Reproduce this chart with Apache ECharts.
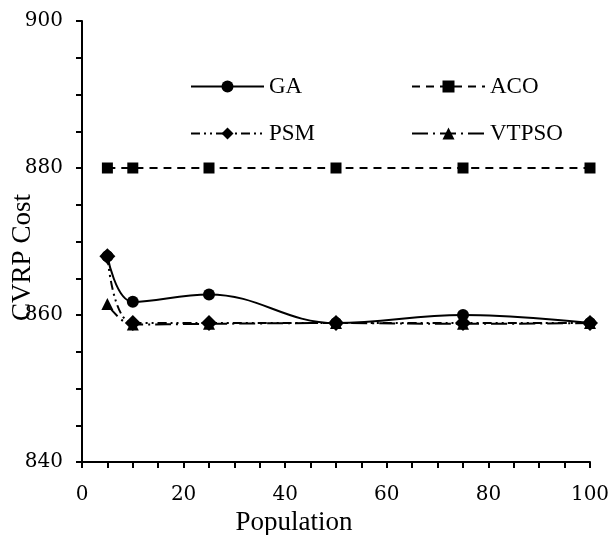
<!DOCTYPE html>
<html><head><meta charset="utf-8">
<script src="https://cdn.jsdelivr.net/npm/echarts@6/dist/echarts.min.js"></script>
<style>html,body{margin:0;padding:0;background:#fff}#c{width:609px;height:535px}</style>
</head><body><div id="c"></div>
<script>
const population = [5, 10, 25, 50, 75, 100];
const ga    = [868, 861.8, 862.8, 858.9, 860, 858.9];
const aco   = [880, 880, 880, 880, 880, 880];
const psm   = [868, 858.9, 858.9, 858.9, 858.9, 858.9];
const vtpso = [861.5, 858.7, 858.8, 858.9, 858.8, 858.9];
const seriesNames = ['GA', 'ACO', 'PSM', 'VTPSO'];
const xTicks = [0, 20, 40, 60, 80, 100];
const yTicks = [840, 860, 880, 900];

const FONT = '"Liberation Serif","Times New Roman",serif';
const TICKFONT = '"DejaVu Serif",serif';
const pairs = arr => population.map((x, i) => [x, arr[i]]);
const base = {type: 'line', smooth: 0.4, color: '#000', itemStyle: {color: '#000'}};
const chart = echarts.init(document.getElementById('c'), null, {renderer: 'canvas'});
const legendCommon = {itemWidth: 73, itemHeight: 15, itemGap: 6,
  textStyle: {fontFamily: FONT, fontSize: 23, color: '#000'}};
chart.setOption({
  animation: false,
  backgroundColor: '#fff',
  grid: {left: 82, right: 19, top: 21, bottom: 73, containLabel: false, outerBoundsMode: 'none'},
  legend: [
    Object.assign({data: [seriesNames[0]], left: 185, top: 70}, legendCommon),
    Object.assign({data: [seriesNames[1]], left: 406, top: 70}, legendCommon),
    Object.assign({data: [seriesNames[2]], left: 185, top: 117}, legendCommon),
    Object.assign({data: [seriesNames[3]], left: 406, top: 117}, legendCommon)
  ],
  xAxis: {
    type: 'value', min: xTicks[0], max: xTicks[xTicks.length - 1], interval: 20,
    name: 'Population', nameLocation: 'middle', nameGap: 42,
    nameTextStyle: {fontFamily: FONT, fontSize: 27, color: '#000', padding: [0, 84, 0, 0]},
    axisLine: {onZero: false, lineStyle: {color: '#000', width: 2}},
    axisTick: {inside: false, length: 6, lineStyle: {color: '#000', width: 2}},
    minorTick: {show: true, splitNumber: 4, length: 6, lineStyle: {color: '#000', width: 2}},
    axisLabel: {fontFamily: TICKFONT, fontSize: 20, color: '#000', margin: 23},
    splitLine: {show: false}
  },
  yAxis: {
    type: 'value', min: yTicks[0], max: yTicks[yTicks.length - 1], interval: 20,
    name: 'CVRP Cost', nameLocation: 'middle', nameGap: 46, nameMoveOverlap: false,
    nameTextStyle: {fontFamily: FONT, fontSize: 27, color: '#000', padding: [0, 32, 0, 0]},
    axisLine: {show: true, lineStyle: {color: '#000', width: 2}},
    axisTick: {inside: false, length: 6, lineStyle: {color: '#000', width: 2}},
    minorTick: {show: true, splitNumber: 4, length: 6, lineStyle: {color: '#000', width: 2}},
    axisLabel: {fontFamily: TICKFONT, fontSize: 20, color: '#000', margin: 19},
    splitLine: {show: false}
  },
  series: [
    Object.assign({}, base, {name: 'GA', data: pairs(ga), symbol: 'circle', symbolSize: 12,
      lineStyle: {color: '#000', width: 2, type: 'solid'}}),
    Object.assign({}, base, {name: 'ACO', data: pairs(aco), symbol: 'rect', symbolSize: 11,
      lineStyle: {color: '#000', width: 2, type: [8, 6]}}),
    Object.assign({}, base, {name: 'PSM', data: pairs(psm), symbol: 'diamond', symbolSize: 16,
      lineStyle: {color: '#000', width: 2, type: [9, 4, 2, 4, 2, 4]}}),
    Object.assign({}, base, {name: 'VTPSO', data: pairs(vtpso), symbol: 'triangle', symbolSize: 12,
      lineStyle: {color: '#000', width: 2, type: [16, 5, 2, 5]}})
  ]
});
</script></body></html>
